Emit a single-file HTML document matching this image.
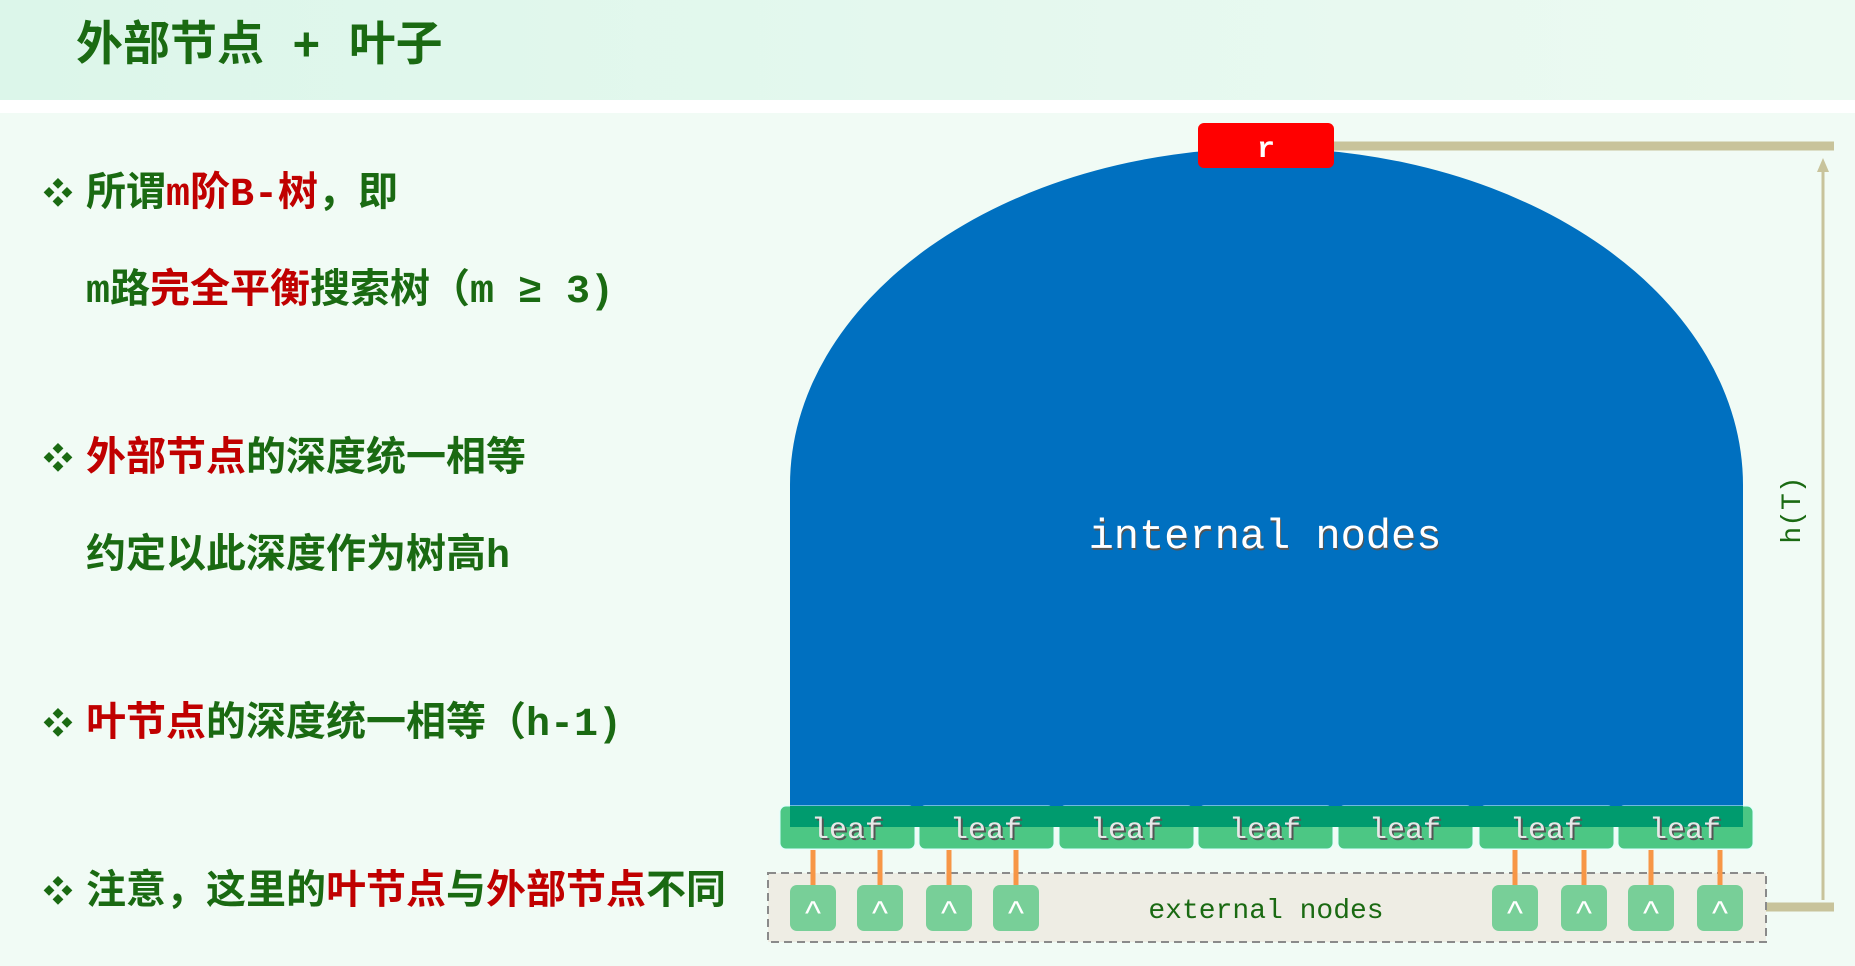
<!DOCTYPE html>
<html><head><meta charset="utf-8"><style>
html,body{margin:0;padding:0}
body{width:1855px;height:966px;position:relative;overflow:hidden;background:#f1fbf5;font-family:"Liberation Mono","Noto Sans CJK SC",monospace}
.hdr{position:absolute;left:0;top:0;width:1855px;height:100px;background:linear-gradient(90deg,#dcf6ea,#ecfaf2)}
.white{position:absolute;left:0;top:100px;width:1855px;height:13px;background:#fff}
.title{position:absolute;left:76px;top:20px;font-size:47px;font-weight:bold;color:#1a6a12;white-space:pre;line-height:58px}
.t{position:absolute;font-size:40px;font-weight:bold;color:#1a6a12;white-space:pre;line-height:44px}
.r{color:#c00000}
.b{position:absolute;left:43px;font-size:30px;color:#1a6a12;line-height:44px;font-family:"Liberation Sans","Noto Sans CJK SC",sans-serif}
</style></head><body>
<div class="hdr"></div><div class="white"></div>
<div class="title">外部节点 + 叶子</div>
<div class="b" style="top:173px">❖</div>
<div class="t" style="left:86px;top:174px">所谓<span class="r">m阶B-树</span>，即</div>
<div class="t" style="left:86px;top:271px">m路<span class="r">完全平衡</span>搜索树（m ≥ 3)</div>
<div class="b" style="top:438px">❖</div>
<div class="t" style="left:86px;top:439px"><span class="r">外部节点</span>的深度统一相等</div>
<div class="t" style="left:86px;top:536px">约定以此深度作为树高h</div>
<div class="b" style="top:703px">❖</div>
<div class="t" style="left:86px;top:704px"><span class="r">叶节点</span>的深度统一相等（h-1)</div>
<div class="b" style="top:871px">❖</div>
<div class="t" style="left:86px;top:872px">注意，这里的<span class="r">叶节点</span>与<span class="r">外部节点</span>不同</div>

<svg style="position:absolute;left:0;top:0" width="1855" height="966">
<defs><clipPath id="dome"><path d="M790,827 L790,485 A476.5,337 0 0 1 1743,485 L1743,827 Z"/></clipPath></defs>
<line x1="1330" y1="146" x2="1834" y2="146" stroke="#c8c39b" stroke-width="9"/>
<line x1="1766" y1="907" x2="1834" y2="907" stroke="#c8c39b" stroke-width="9"/>
<line x1="1823" y1="170" x2="1823" y2="900" stroke="#c8c39b" stroke-width="3"/>
<polygon points="1823,158 1817,172 1829,172" fill="#c8c39b"/>
<text x="1800" y="510" transform="rotate(-90 1800 510)" text-anchor="middle" font-family="Liberation Mono,monospace" font-size="28" fill="#1a6a12">h(T)</text>
<path d="M790,827 L790,485 A476.5,337 0 0 1 1743,485 L1743,827 Z" fill="#0070c0"/>
<text x="1266" y="550" text-anchor="middle" font-family="Liberation Mono,monospace" font-size="42" fill="#555">internal nodes</text>
<text x="1265" y="548" text-anchor="middle" font-family="Liberation Mono,monospace" font-size="42" fill="#fff">internal nodes</text>
<rect x="1198" y="123" width="136" height="45" rx="6" fill="#ff0000"/>
<text x="1266" y="157" text-anchor="middle" font-family="Liberation Mono,monospace" font-size="30" font-weight="bold" fill="#fff">r</text>
<rect x="768" y="873" width="998" height="69" fill="#eeede4" stroke="#8a8a8a" stroke-width="2" stroke-dasharray="8,5"/>
<text x="1266" y="918" text-anchor="middle" font-family="Liberation Mono,monospace" font-size="28" fill="#1a6a12">external nodes</text>
<g font-family="Liberation Mono,monospace" font-size="30" text-anchor="middle">
<g fill="#4cc784" stroke="#dff" stroke-width="1">
<rect x="780" y="806" width="135" height="43" rx="6"/><rect x="919" y="806" width="135" height="43" rx="6"/><rect x="1059" y="806" width="135" height="43" rx="6"/><rect x="1198" y="806" width="135" height="43" rx="6"/><rect x="1338" y="806" width="135" height="43" rx="6"/><rect x="1479" y="806" width="135" height="43" rx="6"/><rect x="1618" y="806" width="135" height="43" rx="6"/>
</g>
<rect x="780" y="806" width="975" height="21" fill="#009b6e" clip-path="url(#dome)"/>
<g fill="#555"><text x="849" y="840">leaf</text><text x="988" y="840">leaf</text><text x="1128" y="840">leaf</text><text x="1267" y="840">leaf</text><text x="1407" y="840">leaf</text><text x="1548" y="840">leaf</text><text x="1687" y="840">leaf</text></g>
<g fill="#e8e8e8"><text x="847" y="838">leaf</text><text x="986" y="838">leaf</text><text x="1126" y="838">leaf</text><text x="1265" y="838">leaf</text><text x="1405" y="838">leaf</text><text x="1546" y="838">leaf</text><text x="1685" y="838">leaf</text></g>
</g>
<g stroke="#f79646" stroke-width="5">
<line x1="813" y1="850" x2="813" y2="885"/><line x1="880" y1="850" x2="880" y2="885"/><line x1="949" y1="850" x2="949" y2="885"/><line x1="1016" y1="850" x2="1016" y2="885"/>
<line x1="1515" y1="850" x2="1515" y2="885"/><line x1="1584" y1="850" x2="1584" y2="885"/><line x1="1651" y1="850" x2="1651" y2="885"/><line x1="1720" y1="850" x2="1720" y2="885"/>
</g>
<g fill="#78cf98">
<rect x="790" y="885" width="46" height="46" rx="7"/><rect x="857" y="885" width="46" height="46" rx="7"/><rect x="926" y="885" width="46" height="46" rx="7"/><rect x="993" y="885" width="46" height="46" rx="7"/>
<rect x="1492" y="885" width="46" height="46" rx="7"/><rect x="1561" y="885" width="46" height="46" rx="7"/><rect x="1628" y="885" width="46" height="46" rx="7"/><rect x="1697" y="885" width="46" height="46" rx="7"/>
</g>
<g fill="#fff" font-family="Liberation Sans,sans-serif" font-size="34" text-anchor="middle">
<text x="813" y="925">^</text><text x="880" y="925">^</text><text x="949" y="925">^</text><text x="1016" y="925">^</text>
<text x="1515" y="925">^</text><text x="1584" y="925">^</text><text x="1651" y="925">^</text><text x="1720" y="925">^</text>
</g>
</svg>
</body></html>
